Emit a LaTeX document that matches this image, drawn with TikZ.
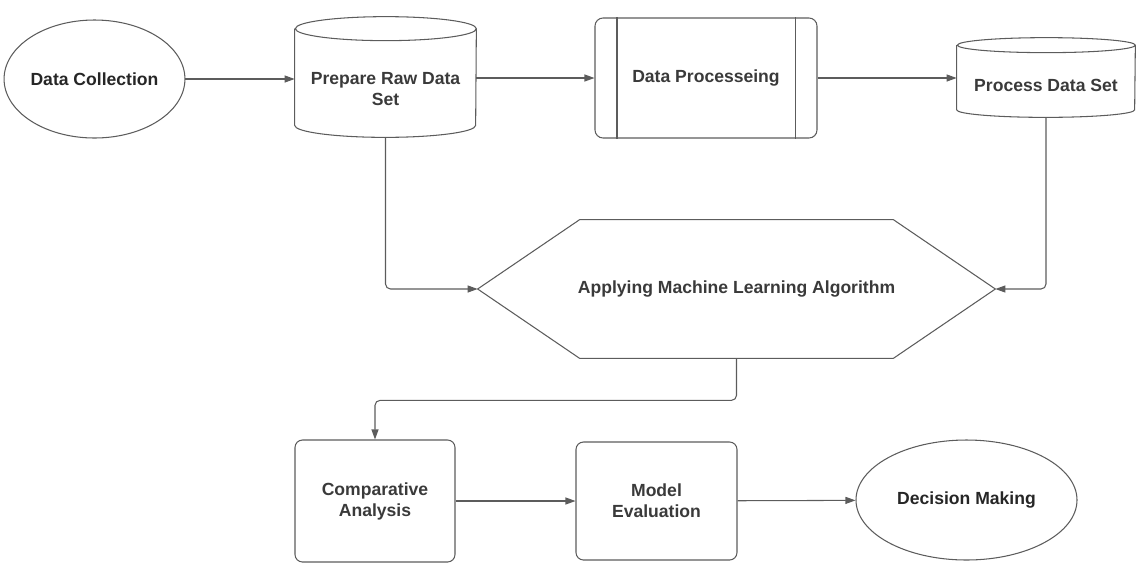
\documentclass[tikz,border=0pt]{standalone}
\usepackage{fontspec}
\setmainfont{Liberation Sans}
\usetikzlibrary{shapes.geometric, arrows.meta}

\definecolor{linegray}{HTML}{5C5C5C}
\definecolor{textgray}{HTML}{3A3A3A}

% drum outline round a node: name, x radius, y radius
\newcommand{\drum}[3]{%
    \path[line] ([yshift=#3]#1.north west) -- ([yshift=#3]#1.south west)
        arc[start angle=180, end angle=360, x radius=#2, y radius=#3]
        -- ([yshift=#3]#1.north east)
        arc[start angle=0, end angle=360, x radius=#2, y radius=#3];
}

\begin{document}
\begin{tikzpicture}[
            x=0.2mm, y=-0.2mm, % one unit per pixel of the layout
            every node/.style={font=\bfseries\fontsize{10}{12}\selectfont, text=textgray, align=center, inner sep=0pt},
            line/.style={draw=linegray, line width=0.6pt},
            flow/.style={line, rounded corners=1mm, -{Triangle[length=2mm, width=1.4mm]}},
            oval/.style={ellipse, line, text=black!85},
            proc/.style={rectangle, line, rounded corners=1.5mm, minimum width=32mm, minimum height=24mm}
            ]

        \useasboundingbox (0,0) rectangle (1137,563);

        % top row
        \node[oval, minimum width=32.2mm, minimum height=23.6mm] (collect) at (94.5,79) {Data Collection};
        \node[minimum width=36.2mm, minimum height=19.2mm] (raw) at (385.5,89) {Prepare Raw Data\\Set};
        \drum{raw}{18.1mm}{2.4mm}
        \node[proc, minimum width=44.4mm, rounded corners=1.6mm] (dproc) at (706,78) {Data Processeing};
        \draw[line] ([xshift=4.5mm]dproc.north west) -- ([xshift=4.5mm]dproc.south west);
        \draw[line] ([xshift=-4.5mm]dproc.north east) -- ([xshift=-4.5mm]dproc.south east);
        \node[minimum width=35.6mm, minimum height=12.8mm] (pds) at (1046,85) {Process Data Set};
        \drum{pds}{17.8mm}{1.5mm}

        % middle: hexagon
        \node[minimum width=103.4mm, minimum height=27.6mm] (algo) at (736.5,289) {Applying Machine Learning Algorithm};
        \draw[line] (algo.west) -- ([xshift=20.4mm]algo.north west) -- ([xshift=-20.4mm]algo.north east)
            -- (algo.east) -- ([xshift=-20.4mm]algo.south east) -- ([xshift=20.4mm]algo.south west) -- cycle;

        % bottom row
        \node[proc, minimum height=24.4mm] (comp) at (375,501) {Comparative\\Analysis};
        \node[proc, minimum width=32.2mm, minimum height=23.6mm] (eval) at (656.5,501) {Model\\Evaluation};
        \node[oval, minimum width=44.2mm, minimum height=24mm] (decide) at (966.5,500) {Decision Making};

        % connectors
        \draw[flow] (collect) -- (collect -| raw.west);
        \draw[flow] (raw.east |- dproc) -- (dproc.west);
        \draw[flow] (dproc.east) -- (dproc -| pds.west);
        \draw[flow] (raw.south) |- (algo.west);
        \draw[flow] (pds.south) |- (algo.east);
        \draw[flow] (algo.south) -- ++(0,42) -| (comp.north);
        \draw[flow] (comp) -- (eval);
        \draw[flow] (eval) -- (decide);

\end{tikzpicture}
\end{document}
